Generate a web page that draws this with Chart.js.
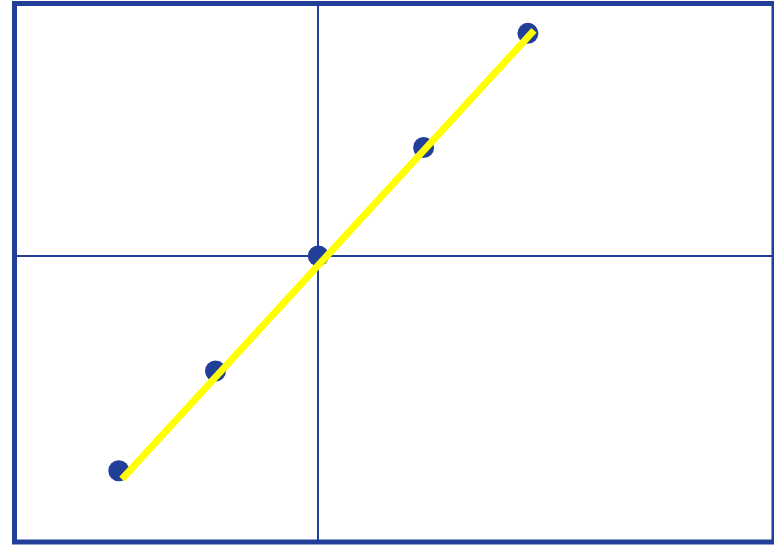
<!DOCTYPE html>
<html>
<head>
<meta charset="utf-8">
<title>Straight line through five points</title>
<script src="https://cdn.jsdelivr.net/npm/chart.js@4"></script>
<style>
  html, body { margin: 0; padding: 0; background: #ffffff; }
  #wrap { width: 774px; height: 545px; }
</style>
</head>
<body>
<div id="wrap"><canvas id="c" width="774" height="545"></canvas></div>
<script>
// values (axis units, origin where the two axes cross)
const pointX = [-1.97, -1.015, 0, 1.04, 2.07];
const pointY = [-1.915, -1.026, 0, 0.966, 1.984];
const lineX = [-1.94, 2.13];
const lineY = [-1.99, 2.01];
const xRange = [-3, 4.5];
const yRange = [-2.55, 2.25];

const BLUE = '#213f99';
const YELLOW = '#ffff00';

const pts = pointX.map((x, i) => ({ x: x, y: pointY[i] }));
const seg = lineX.map((x, i) => ({ x: x, y: lineY[i] }));

// thick frame round the plot area
const frame = {
  id: 'frame',
  afterDraw(chart) {
    const a = chart.chartArea, c = chart.ctx;
    c.save();
    c.strokeStyle = BLUE;
    c.lineWidth = 5;
    c.strokeRect(a.left, a.top, a.right - a.left, a.bottom - a.top);
    c.restore();
  }
};

// only one grid line per axis, at zero
const zeroOnly = scale => { scale.ticks = [{ value: 0 }]; };

new Chart(document.getElementById('c'), {
  type: 'scatter',
  data: {
    datasets: [
      {
        type: 'line',
        data: seg,
        borderColor: YELLOW,
        borderWidth: 7,
        pointRadius: 0,
        fill: false,
        order: 0
      },
      {
        data: pts,
        backgroundColor: BLUE,
        borderWidth: 0,
        pointRadius: 10.5,
        order: 1
      }
    ]
  },
  options: {
    responsive: false,
    animation: false,
    layout: { autoPadding: false, padding: { left: 14.5, top: 3.5, right: 0, bottom: 3 } },
    plugins: { legend: { display: false }, tooltip: { enabled: false } },
    scales: {
      x: {
        type: 'linear', min: xRange[0], max: xRange[1],
        afterBuildTicks: zeroOnly,
        ticks: { display: false },
        grid: { color: BLUE, lineWidth: 2, drawTicks: false },
        border: { display: false }
      },
      y: {
        type: 'linear', min: yRange[0], max: yRange[1],
        afterBuildTicks: zeroOnly,
        ticks: { display: false },
        grid: { color: BLUE, lineWidth: 2, drawTicks: false },
        border: { display: false }
      }
    }
  },
  plugins: [frame]
});
</script>
</body>
</html>
